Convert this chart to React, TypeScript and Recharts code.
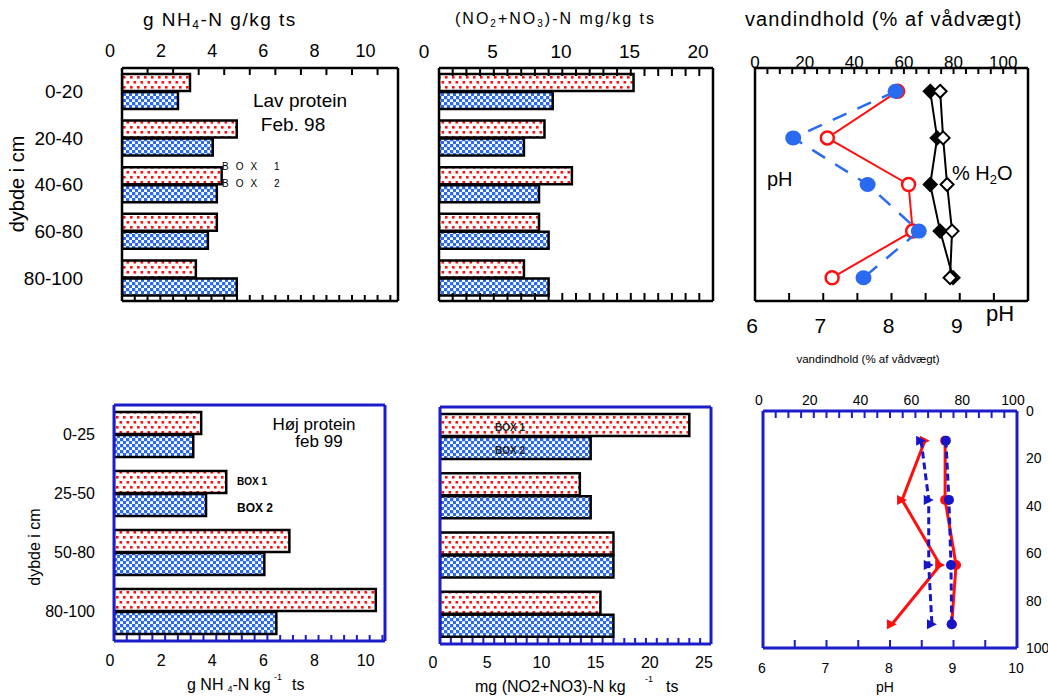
import React from "react";
import { BarChart, Bar, XAxis, YAxis, ScatterChart, Scatter } from "recharts";

const W = 1048;
const H = 699;
const FONT = '"Liberation Sans", Arial, Helvetica, sans-serif';
const FRAME_BLUE = "#1c1cc8";
const RED = "#ff1010";
const BLUE = "#2a6af0";
const DARK_BLUE = "#1616c8";

// ---- top row: "Lav protein, Feb. 98" ----
const depthTop = ["0-20", "20-40", "40-60", "60-80", "80-100"];
const nh4TopBox1 = [2.66, 4.49, 3.9, 3.71, 2.89];
const nh4TopBox2 = [2.19, 3.55, 3.71, 3.36, 4.49];
const no3TopBox1 = [14.2, 7.7, 9.7, 7.3, 6.2];
const no3TopBox2 = [8.3, 6.2, 7.3, 8.0, 8.0];

// profile, top right (depth in cm)
const profDepthTop = [10, 30, 50, 70, 90];
const phTopBox1 = [8.09, 7.06, 8.25, 8.31, 7.13];
const phTopBox2 = [8.06, 6.56, 7.65, 8.4, 7.59];
const waterTopA = [70.6, 73.4, 70.6, 74.6, 79.8];
const waterTopB = [74.6, 75.8, 77.4, 79.4, 78.6];

// ---- bottom row: "Høj protein, feb 99" ----
const depthBottom = ["0-25", "25-50", "50-80", "80-100"];
const nh4BotBox1 = [3.41, 4.39, 6.86, 10.24];
const nh4BotBox2 = [3.1, 3.6, 5.88, 6.35];
const no3BotBox1 = [23.0, 12.9, 16.0, 14.8];
const no3BotBox2 = [13.9, 13.9, 16.0, 16.0];

const profDepthBot = [12.5, 37.5, 65, 90];
const phBotBox1 = [8.55, 8.19, 8.79, 8.03];
const phBotBox2 = [8.49, 8.61, 8.61, 8.66];
const waterBotBox1 = [71.7, 71.7, 76.0, 74.3];
const waterBotBox2 = [72.0, 73.2, 74.0, 74.3];

// tick labels
const nh4TopLabels = [0, 2, 4, 6, 8, 10];
const no3TopLabels = [0, 5, 10, 15, 20];
const waterLabels = [0, 20, 40, 60, 80, 100];
const phTopLabels = [6, 7, 8, 9];
const nh4BotLabels = [0, 2, 4, 6, 8, 10];
const no3BotLabels = [0, 5, 10, 15, 20, 25];
const phBotLabels = [6, 7, 8, 9, 10];
const depthLabels = [0, 20, 40, 60, 80, 100];

type Box = { l: number; t: number; r: number; b: number };
// axes are 1px thick, so the plot area lands on the box
const margins = (bx: Box) => ({ left: bx.l - 1, top: bx.t - 1, right: W - bx.r - 1, bottom: H - bx.b - 1 });

const range = (a: number, b: number, s: number) => {
  const out: number[] = [];
  for (let v = a; v <= b + 1e-9; v += s) out.push(+v.toFixed(3));
  return out;
};

type Lab = { vals: number[]; y: number; dx: number; fs: number };
const labelFn = (o?: Lab) => (p: any) => {
  const v = p.payload.value;
  if (!o || !o.vals.some((l) => Math.abs(l - v) < 1e-6)) return <g />;
  return (
    <text x={p.x + o.dx} y={o.y} textAnchor="middle" fontSize={o.fs} fontFamily={FONT} fill="#000">
      {v}
    </text>
  );
};

type HAx = {
  id: string;
  side: "top" | "bottom";
  domain: [number, number];
  color: string;
  line: number;
  ticks?: number[];
  len?: number;
  labels?: Lab;
  dataKey?: string;
};

// mirrored axis: tick marks point into the frame, labels are placed outside by labelFn
const hAxis = (o: HAx) => (
  <XAxis key={o.id} xAxisId={o.id} type="number" dataKey={o.dataKey} orientation={o.side} domain={o.domain}
    allowDataOverflow height={1} mirror ticks={o.ticks ?? []} interval={0}
    stroke={o.color} tickSize={o.len ?? 0} tickMargin={0}
    tickLine={o.len ? { stroke: o.color, strokeWidth: 2 } : false}
    axisLine={{ stroke: o.color, strokeWidth: o.line }}
    tick={labelFn(o.labels)} />
);

const catTick = (x: number, fs: number) => (p: any) => (
  <text x={x} y={p.y} dy="0.36em" textAnchor="end" fontSize={fs} fontFamily={FONT} fill="#000">
    {p.payload.value}
  </text>
);

type Row = { d: string; b1: number; b2: number };

function BarPanel(props: {
  rows: Row[];
  box: Box;
  top: HAx;
  bottom: HAx;
  frame: string;
  frameW: number;
  barSize: number;
  cat?: { x: number; fs: number };
}) {
  const { rows, box, top, bottom, frame, frameW, barSize, cat } = props;
  const axisLine = { stroke: frame, strokeWidth: frameW };
  return (
    <div style={{ position: "absolute", left: 0, top: 0 }}>
      <BarChart width={W} height={H} data={rows} layout="vertical" margin={margins(box)} barGap={1}>
        {hAxis(top)}
        {hAxis(bottom)}
        <YAxis yAxisId="l" type="category" dataKey="d" width={1} tickLine={false} axisLine={axisLine}
          interval={0} tick={cat ? catTick(cat.x, cat.fs) : false} />
        <YAxis yAxisId="r" type="category" dataKey="d" orientation="right" width={1} tickLine={false}
          axisLine={axisLine} tick={false} />
        <Bar dataKey="b1" xAxisId={top.id} yAxisId="l" fill="url(#patRed)" stroke="#000" strokeWidth={2.5}
          barSize={barSize} isAnimationActive={false} />
        <Bar dataKey="b2" xAxisId={bottom.id} yAxisId="l" fill="url(#patBlue)" stroke="#000" strokeWidth={2.5}
          barSize={barSize} isAnimationActive={false} />
      </BarChart>
    </div>
  );
}

const pts = (xs: number[], ys: number[]) => xs.map((x, i) => ({ x, y: ys[i] }));

const openCircle = (color: string, r: number) => (p: any) => (
  <circle cx={p.cx} cy={p.cy} r={r} fill="#fff" stroke={color} strokeWidth={2.5} />
);
const dot = (color: string, rx: number, ry: number) => (p: any) => (
  <ellipse cx={p.cx} cy={p.cy} rx={rx} ry={ry} fill={color} />
);
const diamond = (filled: boolean, s: number) => (p: any) => (
  <polygon
    points={`${p.cx},${p.cy - s} ${p.cx + s},${p.cy} ${p.cx},${p.cy + s} ${p.cx - s},${p.cy}`}
    fill={filled ? "#000" : "#fff"} stroke="#000" strokeWidth={2} />
);
const triRight = (color: string, s: number) => (p: any) => (
  <polygon points={`${p.cx - s},${p.cy - s} ${p.cx + s},${p.cy} ${p.cx - s},${p.cy + s}`} fill={color} />
);

const boxA: Box = { l: 122, t: 69, r: 398, b: 300 };
const boxB: Box = { l: 439, t: 69, r: 713, b: 300 };
const boxC: Box = { l: 755, t: 69, r: 1028, b: 300 };
const boxD: Box = { l: 114, t: 406, r: 385, b: 640 };
const boxE: Box = { l: 440, t: 408, r: 711, b: 643 };
const boxF: Box = { l: 763, t: 412, r: 1017, b: 647 };

function ProfileTop() {
  const line = { stroke: "#000", strokeWidth: 2.5 };
  return (
    <div style={{ position: "absolute", left: 0, top: 0 }}>
      <ScatterChart width={W} height={H} margin={margins(boxC)}>
        {hAxis({ id: "w", side: "top", dataKey: "x", domain: [0, 110], color: "#000", line: 2.5,
          ticks: range(0, 110, 5), len: 6, labels: { vals: waterLabels, y: 68, dx: 0, fs: 17 } })}
        {hAxis({ id: "p", side: "bottom", dataKey: "x", domain: [6, 10], color: "#000", line: 2.5,
          ticks: range(6, 10, 0.5), len: 8, labels: { vals: phTopLabels, y: 333, dx: -3, fs: 21 } })}
        <YAxis yAxisId="l" type="number" dataKey="y" domain={[0, 100]} allowDataOverflow reversed width={1} tick={false} tickLine={false} axisLine={line} />
        <YAxis yAxisId="r" type="number" dataKey="y" domain={[0, 100]} allowDataOverflow reversed orientation="right" width={1} tick={false} tickLine={false} axisLine={line} />
        <Scatter data={pts(phTopBox1, profDepthTop)} xAxisId="p" yAxisId="l" fill={RED}
          line={{ stroke: RED, strokeWidth: 2 }} shape={openCircle(RED, 6.5)} isAnimationActive={false} />
        <Scatter data={pts(phTopBox2, profDepthTop)} xAxisId="p" yAxisId="l" fill={BLUE}
          line={{ stroke: BLUE, strokeWidth: 2.5, strokeDasharray: "15 12" }} shape={dot(BLUE, 8, 7.5)} isAnimationActive={false} />
        <Scatter data={pts(waterTopA, profDepthTop)} xAxisId="w" yAxisId="r" fill="#000"
          line={{ stroke: "#000", strokeWidth: 2 }} shape={diamond(true, 6.5)} isAnimationActive={false} />
        <Scatter data={pts(waterTopB, profDepthTop)} xAxisId="w" yAxisId="r" fill="#000"
          line={{ stroke: "#000", strokeWidth: 2 }} shape={diamond(false, 6.5)} isAnimationActive={false} />
      </ScatterChart>
    </div>
  );
}

function ProfileBottom() {
  const line = { stroke: FRAME_BLUE, strokeWidth: 3 };
  return (
    <div style={{ position: "absolute", left: 0, top: 0 }}>
      <ScatterChart width={W} height={H} margin={margins(boxF)}>
        {hAxis({ id: "w", side: "top", dataKey: "x", domain: [0, 100], color: FRAME_BLUE, line: 3,
          ticks: range(0, 100, 5), len: 7, labels: { vals: waterLabels, y: 405, dx: -4, fs: 14 } })}
        {hAxis({ id: "p", side: "bottom", dataKey: "x", domain: [6, 10], color: FRAME_BLUE, line: 3,
          ticks: range(6, 10, 0.5), len: 8, labels: { vals: phBotLabels, y: 673, dx: -1, fs: 14 } })}
        <YAxis yAxisId="l" type="number" dataKey="y" domain={[0, 100]} allowDataOverflow reversed width={1} tick={false} tickLine={false} axisLine={line} />
        <YAxis yAxisId="r" type="number" dataKey="y" domain={[0, 100]} allowDataOverflow reversed orientation="right" width={1}
          ticks={depthLabels} interval={0} tickLine={false} axisLine={line}
          tick={(p: any) => (
            <text x={1026} y={p.y} dy="0.36em" textAnchor="start" fontSize={14} fontFamily={FONT} fill="#000">
              {p.payload.value}
            </text>
          )} />
        <Scatter data={pts(phBotBox1, profDepthBot)} xAxisId="p" yAxisId="r" fill={RED}
          line={{ stroke: RED, strokeWidth: 3 }} shape={triRight(RED, 5)} isAnimationActive={false} />
        <Scatter data={pts(phBotBox2, profDepthBot)} xAxisId="p" yAxisId="r" fill={DARK_BLUE}
          line={{ stroke: DARK_BLUE, strokeWidth: 3, strokeDasharray: "7 4" }} shape={triRight(DARK_BLUE, 5)} isAnimationActive={false} />
        <Scatter data={pts(waterBotBox1, profDepthBot)} xAxisId="w" yAxisId="r" fill={RED}
          line={{ stroke: RED, strokeWidth: 3 }} shape={dot(RED, 5, 5)} isAnimationActive={false} />
        <Scatter data={pts(waterBotBox2, profDepthBot)} xAxisId="w" yAxisId="r" fill={DARK_BLUE}
          line={{ stroke: DARK_BLUE, strokeWidth: 3, strokeDasharray: "7 4" }} shape={dot(DARK_BLUE, 5, 5)} isAnimationActive={false} />
      </ScatterChart>
    </div>
  );
}

function Labels() {
  const t = { fontFamily: FONT, fill: "#000" } as const;
  return (
    <svg width={W} height={H} style={{ position: "absolute", left: 0, top: 0, pointerEvents: "none" }}>
      {/* top row titles */}
      <text x={143} y={26} fontSize={19} letterSpacing={1.5} {...t}>
        g NH<tspan fontSize={12} dy={3}>4</tspan><tspan dy={-3}>-N g/kg ts</tspan>
      </text>
      <text x={455} y={24} fontSize={16} letterSpacing={2} {...t}>
        (NO<tspan fontSize={10} dy={3}>2</tspan><tspan dy={-3}>+NO</tspan><tspan fontSize={10} dy={3}>3</tspan>
        <tspan dy={-3}>)-N mg/kg ts</tspan>
      </text>
      <text x={745} y={26} fontSize={20} letterSpacing={1.1} {...t}>vandindhold (% af vådvægt)</text>
      <text x={300} y={107} fontSize={19} textAnchor="middle" {...t}>Lav protein</text>
      <text x={293} y={131} fontSize={19} textAnchor="middle" {...t}>Feb. 98</text>
      <text x={222} y={170} fontSize={10} letterSpacing={7} {...t}>BOX 1</text>
      <text x={222} y={187} fontSize={10} letterSpacing={7} {...t}>BOX 2</text>
      <text x={24} y={184} fontSize={20} textAnchor="middle" transform="rotate(-90 24 184)" {...t}>dybde i cm</text>
      <text x={767} y={186} fontSize={20} {...t}>pH</text>
      <text x={952} y={180} fontSize={20} {...t}>
        % H<tspan fontSize={13} dy={4}>2</tspan><tspan dy={-4}>O</tspan>
      </text>
      <text x={986} y={321} fontSize={22} {...t}>pH</text>
      <text x={868} y={363} fontSize={11.5} textAnchor="middle" {...t}>vandindhold (% af vådvægt)</text>

      {/* bottom row */}
      <text x={314} y={430} fontSize={17} textAnchor="middle" {...t}>Høj protein</text>
      <text x={319} y={447} fontSize={17} textAnchor="middle" {...t}>feb 99</text>
      <text x={237} y={485} fontSize={10} fontWeight="bold" {...t}>BOX 1</text>
      <text x={237} y={512} fontSize={12} fontWeight="bold" {...t}>BOX 2</text>
      <text x={40} y={547} fontSize={16} textAnchor="middle" transform="rotate(-90 40 547)" {...t}>dybde i cm</text>
      <text x={187} y={690} fontSize={16} {...t}>
        g NH<tspan fontSize={9} dx={4} dy={2}>4</tspan><tspan dy={-2}>-N kg</tspan>
      </text>
      <text x={274} y={680} fontSize={9} {...t}>-1</text>
      <text x={292} y={690} fontSize={16} {...t}>ts</text>
      <text x={495} y={431} fontSize={10} fontWeight="bold" fill="#222" fontFamily={FONT}>BOX 1</text>
      <text x={495} y={454} fontSize={10} fontWeight="bold" fill="#222" fontFamily={FONT}>BOX 2</text>
      <text x={475} y={692} fontSize={16} {...t}>mg (NO2+NO3)-N kg</text>
      <text x={645} y={682} fontSize={9} {...t}>-1</text>
      <text x={666} y={692} fontSize={16} {...t}>ts</text>
      <text x={885} y={692} fontSize={14} textAnchor="middle" {...t}>pH</text>
    </svg>
  );
}

export default function App() {
  const rows = (cats: string[], a: number[], b: number[]): Row[] => cats.map((d, i) => ({ d, b1: a[i], b2: b[i] }));
  const K = "#000";
  const B = FRAME_BLUE;
  return (
    <div style={{ position: "absolute", left: 0, top: 0, width: W, height: H, background: "#fff", overflow: "hidden", fontFamily: FONT }}>
      <svg width={0} height={0} style={{ position: "absolute" }}>
        <defs>
          <pattern id="patRed" width={7} height={10} patternUnits="userSpaceOnUse">
            <rect width={7} height={10} fill="#fff" />
            <rect x={0.5} y={1} width={2.6} height={2.6} fill={RED} />
            <rect x={4} y={6} width={2.6} height={2.6} fill={RED} />
          </pattern>
          <pattern id="patBlue" width={6} height={6} patternUnits="userSpaceOnUse">
            <rect width={6} height={6} fill="#fff" />
            <rect x={0} y={0} width={3.3} height={3.3} fill={BLUE} />
            <rect x={3} y={3} width={3.3} height={3.3} fill={BLUE} />
          </pattern>
        </defs>
      </svg>

      <BarPanel rows={rows(depthTop, nh4TopBox1, nh4TopBox2)} box={boxA}
        top={{ id: "t", side: "top", domain: [0, 10.8], color: K, line: 2.5, ticks: range(0, 10, 1), len: 7,
          labels: { vals: nh4TopLabels, y: 57, dx: -12, fs: 18 } }}
        bottom={{ id: "b", side: "bottom", domain: [0, 10.8], color: K, line: 2.5, ticks: range(0, 10.5, 0.5), len: 6 }}
        frame={K} frameW={2.5} barSize={17} cat={{ x: 83, fs: 19 }} />

      <BarPanel rows={rows(depthTop, no3TopBox1, no3TopBox2)} box={boxB}
        top={{ id: "t", side: "top", domain: [0, 20], color: K, line: 2.5, ticks: range(0, 20, 1), len: 8,
          labels: { vals: no3TopLabels, y: 58, dx: -15, fs: 19 } }}
        bottom={{ id: "b", side: "bottom", domain: [0, 20], color: K, line: 2.5, ticks: range(0, 20, 1), len: 8 }}
        frame={K} frameW={2.5} barSize={17} />

      <ProfileTop />

      <BarPanel rows={rows(depthBottom, nh4BotBox1, nh4BotBox2)} box={boxD}
        top={{ id: "t", side: "top", domain: [0, 10.6], color: B, line: 3 }}
        bottom={{ id: "b", side: "bottom", domain: [0, 10.6], color: B, line: 3, ticks: range(0, 10.5, 0.5), len: 6,
          labels: { vals: nh4BotLabels, y: 666, dx: -4, fs: 16 } }}
        frame={B} frameW={3} barSize={22} cat={{ x: 95, fs: 16 }} />

      <BarPanel rows={rows(depthBottom, no3BotBox1, no3BotBox2)} box={boxE}
        top={{ id: "t", side: "top", domain: [0, 25], color: B, line: 3 }}
        bottom={{ id: "b", side: "bottom", domain: [0, 25], color: B, line: 3, ticks: range(0, 25, 1), len: 6,
          labels: { vals: no3BotLabels, y: 668, dx: -7, fs: 16 } }}
        frame={B} frameW={3} barSize={22} />

      <ProfileBottom />

      <Labels />
    </div>
  );
}
